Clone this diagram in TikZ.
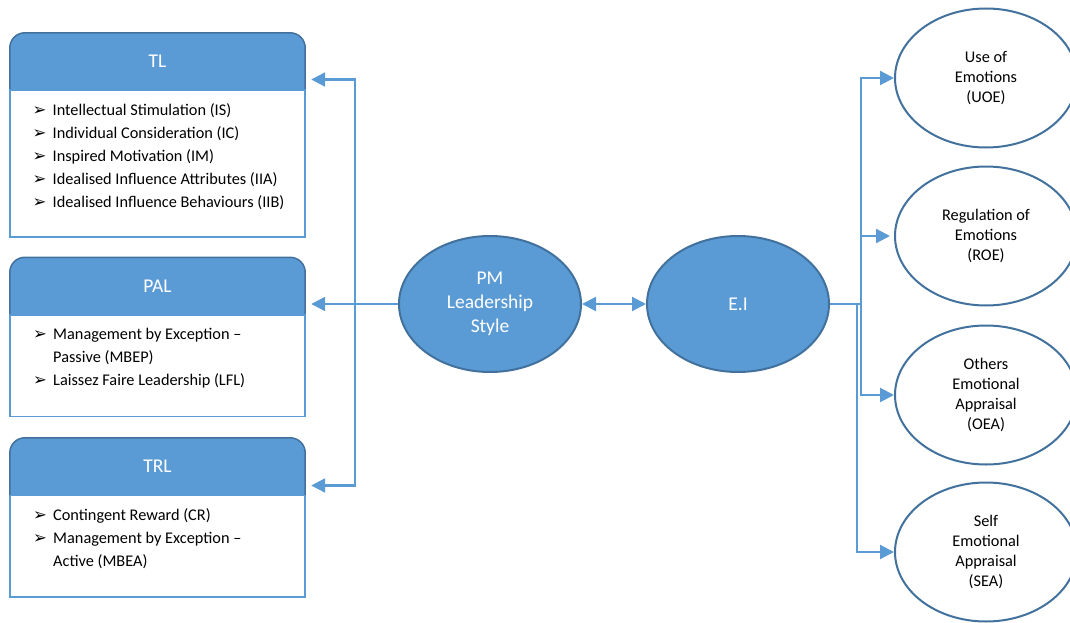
\documentclass[tikz,border=0pt]{standalone}
\usepackage{fontspec}
\setmainfont{Carlito}
\newfontfamily\dvfont{DejaVu Sans}
\usetikzlibrary{arrows.meta,backgrounds,shapes.geometric}
\definecolor{mainblue}{HTML}{5B9BD5}
\definecolor{darkblue}{HTML}{41719C}
\newcommand{\bul}{\makebox[20pt][l]{\raisebox{0pt}{\dvfont\fontsize{16.5}{16.5}\selectfont ➢}}}
\newcommand{\cont}{\hspace*{20pt}}
\tikzset{
  hdr/.style={minimum width=295pt, minimum height=57pt, inner sep=0pt, text=white, font=\fontsize{19.5}{24}\selectfont},
  hdrshape/.style={fill=mainblue},
  hdrline/.style={draw=darkblue, line width=1.5pt},
  bodybox/.style={draw=mainblue, line width=1.5pt, fill=white, minimum width=295pt, inner sep=0pt},
  items/.style={anchor=north west, inner sep=0pt, align=left, font=\fontsize{16.3}{23}\selectfont},
  blueell/.style={ellipse, draw=darkblue, line width=2pt, fill=mainblue, minimum width=182pt, minimum height=136pt, inner sep=0pt, text=white, align=center, font=\fontsize{19.5}{24}\selectfont},
  whiteell/.style={ellipse, draw=darkblue, line width=2pt, fill=white, minimum width=182pt, minimum height=139pt, inner sep=0pt, align=center, font=\fontsize{16.3}{20}\selectfont},
  conn/.style={draw=mainblue, line width=2.2pt, -{Triangle[length=14pt,width=14pt]}},
  conn2/.style={draw=mainblue, line width=2.2pt, {Triangle[length=14pt,width=14pt]}-{Triangle[length=14pt,width=14pt]}}
}
\begin{document}
\begin{tikzpicture}[x=1pt,y=-1pt]
\useasboundingbox (0,0) rectangle (1070,623);

% ---------- left boxes: headers ----------
\node[hdr] (tlh) at (157.5,61.5) {TL};
\node[hdr] (palh) at (157.5,286) {PAL};
\node[hdr] (trlh) at (157.5,466.5) {TRL};
\begin{scope}[on background layer]
  \foreach \h in {tlh,palh,trlh}{
    \fill[hdrshape] (\h.south west) [rounded corners=15pt] -- (\h.north west) -- (\h.north east) [sharp corners] -- (\h.south east) -- cycle;
    \draw[hdrline] (\h.south west) [rounded corners=15pt] -- (\h.north west) -- (\h.north east) [sharp corners] -- (\h.south east);
  }
\end{scope}

% ---------- left boxes: bodies ----------
\node[bodybox, minimum height=147pt] (tlb) at (157.5,163.5) {};
\node[bodybox, minimum height=101.5pt] (palb) at (157.5,365.5) {};
\node[bodybox, minimum height=101.5pt] (trlb) at (157.5,546) {};

\node[items] (tlt) at (32.5,100) {\rule{0pt}{15pt}\bul Intellectual Stimulation (IS)\\
\bul Individual Consideration (IC)\\
\bul Inspired Motivation (IM)\\
\bul Idealised Influence Attributes (IIA)\\
\bul Idealised Influence Behaviours (IIB)};

\node[items] (palt) at (33,324.5) {\rule{0pt}{15pt}\bul Management by Exception --\\
\cont Passive (MBEP)\\
\bul Laissez Faire Leadership (LFL)};

\node[items] (trlt) at (33,505.5) {\rule{0pt}{15pt}\bul Contingent Reward (CR)\\
\bul Management by Exception --\\
\cont Active (MBEA)};

% ---------- central ellipses ----------
\node[blueell] (pm) at (490,304) {PM\\Leadership\\Style};
\node[blueell] (ei) at (738,304) {E.I};

% ---------- right ellipses ----------
\node[whiteell] (uoe) at (986,78) {Use of\\Emotions\\(UOE)};
\node[whiteell] (roe) at (986,236) {Regulation of\\Emotions\\(ROE)};
\node[whiteell] (oea) at (986,395) {Others\\Emotional\\Appraisal\\(OEA)};
\node[whiteell] (sea) at (986,552) {Self\\Emotional\\Appraisal\\(SEA)};

% ---------- connectors ----------
\coordinate (lbus) at (355,0);
\coordinate (rbus) at (861,0);
\coordinate (rbusb) at (857,0);

\draw[conn, shorten >=6pt] (pm.west) -- (pm.west -| lbus) |- ([yshift=-18pt]tlh.east);
\draw[conn, shorten >=6pt] (pm.west) -- (pm.west -| palh.east);
\draw[conn, shorten >=6pt] (pm.west) -- (pm.west -| lbus) |- ([yshift=-19pt]trlh.east);

\draw[conn2] (pm.east) -- (ei.west);

\draw[conn] (ei.east) -- (ei.east -| rbus) |- (uoe.west);
\draw[conn] (ei.east) -- (ei.east -| rbus) |- ([xshift=-4pt]roe.west);
\draw[conn] (ei.east) -- (ei.east -| rbus) |- (oea.west);
\draw[conn] (ei.east) -- (ei.east -| rbusb) |- (sea.west);
\end{tikzpicture}
\end{document}
